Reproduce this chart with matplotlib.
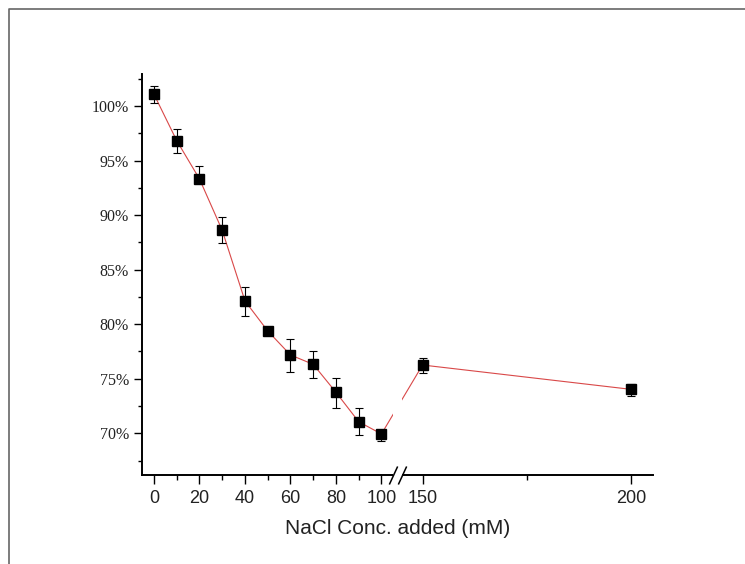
import numpy as np
import matplotlib
matplotlib.use('Agg')
import matplotlib.pyplot as plt
from matplotlib.patches import Rectangle
from matplotlib.lines import Line2D
from matplotlib.ticker import FixedLocator, FuncFormatter

# NaCl concentration (mM) and relative value (%)
conc = [0, 10, 20, 30, 40, 50, 60, 70, 80, 90, 100, 150, 200]
value = [101.07, 96.82, 93.31, 88.6, 82.13, 79.38, 77.18, 76.32, 73.76, 71.06, 69.94, 76.26, 74.03]
err_up = [0.8, 1.1, 1.2, 1.18, 1.3, 0.2, 1.45, 1.2, 1.35, 1.3, 0.3, 0.62, 0.5]
err_lo = [0.8, 1.1, 0.3, 1.18, 1.35, 0.2, 1.6, 1.25, 1.45, 1.25, 0.62, 0.7, 0.6]

x_major = [0, 20, 40, 60, 80, 100, 150, 200]
x_minor = [10, 30, 50, 70, 90, 175]
y_major = [70, 75, 80, 85, 90, 95, 100]
y_minor = [67.5, 72.5, 77.5, 82.5, 87.5, 92.5, 97.5, 102.5]

# broken axis: 0..105 then 145..205, right part stretched
B1, B2, GAP, R = 105.0, 145.0, 3.9, 1.833

def fwd(x):
    x = np.asarray(x, float)
    return np.where(x <= B1, x,
                    np.where(x >= B2, B1 + GAP + (x - B2) * R,
                             B1 + (x - B1) * GAP / (B2 - B1)))

def inv(u):
    u = np.asarray(u, float)
    return np.where(u <= B1, u,
                    np.where(u >= B1 + GAP, B2 + (u - B1 - GAP) / R,
                             B1 + (u - B1) * (B2 - B1) / GAP))

fig = plt.figure(figsize=(7.45, 5.64), dpi=100)
ax = fig.add_axes([142.3 / 745, 89 / 564, 510.4 / 745, 401 / 564])
ax.set_xscale('function', functions=(fwd, inv))

ax.plot(conc, value, color='#d94848', lw=0.8, zorder=1)
# gap in the connecting line
ax.add_patch(Rectangle((B1, 0), B2 - B1, 1, transform=ax.get_xaxis_transform(),
                       facecolor='white', edgecolor='none', zorder=1.5))
ax.errorbar(conc, value, yerr=[err_lo, err_up], fmt='s', color='black',
            markersize=6.7, ecolor='black', elinewidth=0.8, capsize=2.8,
            capthick=0.8, zorder=3)

ax.set_xlim(-5.14, 205.2)
ax.set_ylim(66.18, 102.93)

for s in ['top', 'right']:
    ax.spines[s].set_visible(False)
for s in ['left', 'bottom']:
    ax.spines[s].set_linewidth(1.4)

ax.xaxis.set_major_locator(FixedLocator(x_major))
ax.xaxis.set_minor_locator(FixedLocator(x_minor))
ax.xaxis.set_major_formatter(FuncFormatter(lambda v, p: '%d' % round(v)))
ax.xaxis.set_minor_formatter(FuncFormatter(lambda v, p: ''))
ax.yaxis.set_major_locator(FixedLocator(y_major))
ax.yaxis.set_minor_locator(FixedLocator(y_minor))
ax.yaxis.set_major_formatter(FuncFormatter(lambda v, p: '%d%%' % round(v)))

ax.tick_params(axis='x', which='major', direction='out', length=6.5, width=1,
               pad=4, labelsize=13, labelcolor='#222222')
ax.tick_params(axis='x', which='minor', direction='out', length=3.5, width=1)
ax.tick_params(axis='y', which='major', direction='out', length=6, width=1,
               pad=3.5, labelsize=11.5, labelcolor='#222222')
ax.tick_params(axis='y', which='minor', direction='out', length=3, width=1)
for lab in ax.get_xticklabels():
    lab.set_family('Liberation Sans')
for lab in ax.get_yticklabels():
    lab.set_family('Liberation Serif')

ax.set_xlabel('NaCl Conc. added (mM)', fontsize=15, family='Liberation Sans',
              color='#222222', labelpad=9)

# break marks on x axis
ax.add_patch(Rectangle((B1, -0.012), B2 - B1, 0.024, transform=ax.get_xaxis_transform(),
                       facecolor='white', edgecolor='none', zorder=4, clip_on=False))
ax.plot([B1, B2], [0, 0], transform=ax.get_xaxis_transform(), ls='none',
        marker=[(-0.46, -1), (0.46, 1)], markersize=13, mew=1.1, color='black',
        clip_on=False, zorder=5)

# outer frame (only top and left visible in the crop)
fx, fy = 8.5 / 745, 1 - 8.5 / 564
fig.add_artist(Line2D([fx, fx, 1.0], [0.0, fy, fy], transform=fig.transFigure,
                      color='#666666', lw=1.2))

fig.savefig('out.png', dpi=100)
